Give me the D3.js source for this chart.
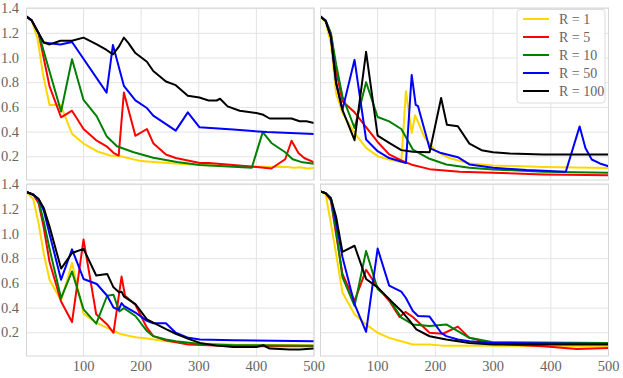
<!DOCTYPE html>
<html>
<head>
<meta charset="utf-8">
<script src="https://cdn.jsdelivr.net/npm/d3@7"></script>
<style>
  body { margin: 0; background: #fff; }
  svg text { font-family: "Liberation Serif", "DejaVu Serif", serif; }
</style>
</head>
<body>
<svg id="chart" width="623" height="378"></svg>
<script>
// legend / series categories
const rValues = [1, 5, 10, 50, 100];
const colors = ["#ffd700", "#ff0000", "#008000", "#0000ff", "#000000"];
const xTicks = [100, 200, 300, 400, 500];
const yTicks = [0.2, 0.4, 0.6, 0.8, 1.0, 1.2, 1.4];

// top-left panel
const tl_R1 = [[1,1.335],[10,1.30],[20,1.16],[30,0.86],[41,0.62],[60,0.62],[80,0.387],[100,0.307],[123,0.245],[146,0.21],[164,0.205],[200,0.165],[245,0.15],[302,0.133],[360,0.125],[418,0.12],[453,0.117],[465,0.112],[476,0.115],[488,0.106],[500,0.11]];
const tl_R5 = [[1,1.335],[10,1.305],[22,1.2],[41,0.77],[61,0.52],[80,0.573],[100,0.425],[123,0.33],[140,0.285],[152,0.232],[161,0.21],[170,0.72],[190,0.37],[210,0.425],[221,0.31],[243,0.218],[260,0.19],[302,0.15],[317,0.15],[360,0.133],[418,0.11],[426,0.105],[450,0.18],[461,0.33],[473,0.23],[483,0.19],[500,0.155]];
const tl_R10 = [[1,1.335],[10,1.305],[22,1.2],[41,0.89],[61,0.567],[80,0.99],[100,0.66],[123,0.527],[140,0.367],[158,0.285],[187,0.237],[221,0.192],[262,0.157],[302,0.133],[360,0.12],[392,0.111],[411,0.40],[426,0.312],[450,0.237],[463,0.18],[480,0.155],[500,0.143]];
const tl_R50 = [[1,1.335],[10,1.305],[22,1.2],[31,1.125],[41,1.12],[60,1.11],[80,1.13],[140,0.72],[151,1.106],[170,0.775],[190,0.657],[210,0.595],[221,0.533],[260,0.412],[281,0.56],[301,0.44],[360,0.42],[418,0.40],[500,0.385]];
const tl_R100 = [[1,1.335],[10,1.305],[22,1.2],[31,1.125],[41,1.11],[60,1.14],[80,1.14],[100,1.165],[123,1.11],[140,1.065],[151,1.03],[161,1.09],[170,1.165],[178,1.12],[190,1.04],[210,0.97],[221,0.895],[243,0.81],[260,0.78],[281,0.694],[301,0.68],[317,0.656],[331,0.656],[337,0.67],[350,0.608],[371,0.573],[400,0.555],[412,0.54],[423,0.51],[461,0.51],[475,0.488],[487,0.488],[500,0.474]];

// top-right panel
const tr_R1 = [[1,1.335],[10,1.29],[19,1.12],[28,0.715],[39,0.555],[60,0.393],[80,0.272],[100,0.205],[120,0.178],[141,0.157],[149,0.73],[159,0.393],[165,0.536],[181,0.36],[201,0.245],[224,0.19],[259,0.145],[300,0.13],[387,0.118],[500,0.11]];
const tr_R5 = [[1,1.335],[10,1.30],[19,1.2],[28,0.9],[39,0.65],[60,0.56],[80,0.44],[100,0.32],[120,0.22],[141,0.17],[161,0.133],[190,0.1],[242,0.079],[300,0.071],[387,0.057],[500,0.05]];
const tr_R10 = [[1,1.335],[10,1.305],[19,1.2],[28,0.95],[39,0.69],[60,0.433],[80,0.804],[100,0.522],[120,0.487],[141,0.425],[161,0.259],[190,0.184],[219,0.138],[259,0.111],[300,0.098],[387,0.079],[500,0.071]];
const tr_R50 = [[1,1.335],[10,1.30],[19,1.17],[28,0.8],[39,0.58],[60,0.985],[80,0.34],[100,0.245],[120,0.19],[149,0.15],[159,0.863],[166,0.62],[170,0.61],[190,0.27],[210,0.23],[239,0.197],[259,0.138],[300,0.111],[358,0.092],[426,0.079],[450,0.446],[460,0.272],[471,0.178],[485,0.146],[500,0.124]];
const tr_R100 = [[1,1.335],[10,1.30],[19,1.17],[28,0.80],[39,0.58],[60,0.334],[80,1.05],[100,0.372],[120,0.313],[141,0.254],[161,0.24],[190,0.237],[210,0.676],[220,0.46],[239,0.447],[259,0.307],[280,0.253],[300,0.237],[329,0.226],[387,0.218],[500,0.218]];

// bottom-left panel
const bl_R1 = [[1,1.34],[13,1.28],[22,1.086],[31,0.84],[41,0.63],[61,0.46],[80,0.765],[100,0.355],[122,0.282],[141,0.24],[164,0.19],[190,0.164],[210,0.153],[244,0.132],[302,0.114],[360,0.105],[500,0.1]];
const bl_R5 = [[1,1.34],[13,1.318],[22,1.25],[31,1.05],[41,0.773],[61,0.454],[80,0.287],[100,0.955],[122,0.35],[141,0.268],[152,0.2],[166,0.655],[172,0.5],[190,0.427],[210,0.241],[221,0.173],[244,0.137],[282,0.105],[360,0.09],[500,0.09]];
const bl_R10 = [[1,1.34],[13,1.318],[22,1.27],[31,1.1],[41,0.88],[61,0.48],[80,0.697],[100,0.39],[122,0.274],[141,0.5],[152,0.508],[162,0.372],[170,0.4],[190,0.336],[210,0.214],[221,0.173],[243,0.146],[260,0.132],[302,0.11],[360,0.1],[500,0.096]];
const bl_R50 = [[1,1.34],[13,1.318],[22,1.283],[31,1.19],[41,1.0],[61,0.63],[80,0.876],[100,0.636],[123,0.595],[141,0.5],[152,0.405],[161,0.386],[166,0.44],[170,0.418],[190,0.364],[210,0.296],[221,0.277],[243,0.277],[260,0.2],[282,0.159],[302,0.146],[360,0.14],[500,0.132]];
const bl_R100 = [[1,1.34],[13,1.318],[22,1.283],[31,1.21],[41,1.06],[61,0.72],[80,0.846],[100,0.88],[122,0.664],[141,0.677],[152,0.568],[162,0.527],[166,0.533],[170,0.495],[190,0.432],[210,0.309],[221,0.282],[244,0.227],[260,0.192],[282,0.151],[302,0.118],[331,0.096],[360,0.085],[400,0.085],[412,0.099],[423,0.072],[458,0.064],[475,0.064],[500,0.072]];

// bottom-right panel
const br_R1 = [[1,1.345],[10,1.32],[19,1.086],[28,0.84],[39,0.527],[60,0.35],[80,0.268],[100,0.2],[120,0.159],[141,0.132],[161,0.105],[190,0.105],[213,0.096],[300,0.096],[387,0.09],[500,0.09]];
const br_R5 = [[1,1.345],[10,1.33],[19,1.27],[28,1.0],[39,0.677],[60,0.459],[80,0.71],[100,0.568],[120,0.459],[138,0.328],[148,0.369],[161,0.328],[190,0.2],[213,0.192],[239,0.25],[259,0.159],[300,0.113],[387,0.09],[445,0.069],[500,0.077]];
const br_R10 = [[1,1.345],[10,1.33],[19,1.28],[28,1.03],[39,0.65],[60,0.418],[80,0.863],[100,0.555],[120,0.473],[141,0.323],[161,0.268],[190,0.254],[219,0.268],[239,0.214],[259,0.159],[300,0.124],[500,0.118]];
const br_R50 = [[1,1.345],[10,1.33],[19,1.29],[28,1.1],[39,0.814],[60,0.432],[80,0.208],[100,0.882],[120,0.582],[141,0.533],[149,0.482],[161,0.377],[170,0.336],[190,0.331],[210,0.2],[219,0.173],[239,0.146],[259,0.132],[300,0.118],[500,0.11]];
const br_R100 = [[1,1.345],[10,1.33],[19,1.29],[28,1.14],[39,0.855],[60,0.905],[80,0.636],[100,0.568],[120,0.473],[141,0.377],[155,0.3],[167,0.227],[190,0.172],[219,0.145],[259,0.118],[300,0.105],[500,0.105]];

const svg = d3.select("#chart");

// panel boxes (pixels)
const colX = [[26.5, 314], [320.5, 608.5]];
const rowY = [[8, 180], [184, 356]];

const panels = [
  {col: 0, row: 0, series: [tl_R1, tl_R5, tl_R10, tl_R50, tl_R100]},
  {col: 1, row: 0, series: [tr_R1, tr_R5, tr_R10, tr_R50, tr_R100]},
  {col: 0, row: 1, series: [bl_R1, bl_R5, bl_R10, bl_R50, bl_R100]},
  {col: 1, row: 1, series: [br_R1, br_R5, br_R10, br_R50, br_R100]}
];

panels.forEach(function(p, i) {
  let x = d3.scaleLinear().domain([1, 500]).range(colX[p.col]);
  let y = d3.scaleLinear().domain([0.012, 1.405]).range([rowY[p.row][1], rowY[p.row][0]]);
  let w = colX[p.col][1] - colX[p.col][0];
  let h = rowY[p.row][1] - rowY[p.row][0];

  let g = svg.append("g");

  svg.append("clipPath").attr("id", "clip" + i)
    .append("rect")
    .attr("x", colX[p.col][0]).attr("y", rowY[p.row][0])
    .attr("width", w).attr("height", h);

  // grid
  g.selectAll(".gx").data(xTicks).enter().append("line")
    .attr("x1", d => x(d)).attr("x2", d => x(d))
    .attr("y1", rowY[p.row][0]).attr("y2", rowY[p.row][1])
    .attr("stroke", "#e3e3e3").attr("stroke-width", 1);
  g.selectAll(".gy").data(yTicks).enter().append("line")
    .attr("x1", colX[p.col][0]).attr("x2", colX[p.col][1])
    .attr("y1", d => y(d)).attr("y2", d => y(d))
    .attr("stroke", "#e3e3e3").attr("stroke-width", 1);

  // lines
  let line = d3.line().x(d => x(d[0])).y(d => y(d[1]));
  p.series.forEach(function(s, k) {
    g.append("path")
      .datum(s)
      .attr("d", line)
      .attr("clip-path", "url(#clip" + i + ")")
      .attr("fill", "none")
      .attr("stroke", colors[k])
      .attr("stroke-width", 2)
      .attr("stroke-linejoin", "round");
  });

  // frame
  g.append("rect")
    .attr("x", colX[p.col][0]).attr("y", rowY[p.row][0])
    .attr("width", w).attr("height", h)
    .attr("fill", "none").attr("stroke", "#d6d6d6").attr("stroke-width", 1);

  // tick labels only on outer edges
  if (p.col == 0) {
    g.selectAll(".ty").data(yTicks).enter().append("text")
      .attr("x", 19).attr("y", d => y(d) + 4.5)
      .attr("text-anchor", "end")
      .attr("font-size", 14.5).attr("fill", "#666")
      .text(d => d.toFixed(1));
  }
  if (p.row == 1) {
    g.selectAll(".tx").data(xTicks).enter().append("text")
      .attr("x", d => x(d)).attr("y", 371)
      .attr("text-anchor", "middle")
      .attr("font-size", 14.5).attr("fill", "#666")
      .text(d => d);
  }
});

// legend in top-right panel
let lg = svg.append("g");
lg.append("rect")
  .attr("x", 517).attr("y", 9.5).attr("width", 88).attr("height", 93.5)
  .attr("rx", 3)
  .attr("fill", "#fff").attr("fill-opacity", 0.85)
  .attr("stroke", "#dcdcdc").attr("stroke-width", 1);

rValues.forEach(function(r, k) {
  let yy = 19 + k * 18;
  lg.append("line")
    .attr("x1", 523).attr("x2", 549).attr("y1", yy).attr("y2", yy)
    .attr("stroke", colors[k]).attr("stroke-width", 2);
  lg.append("text")
    .attr("x", 559).attr("y", yy + 4.5)
    .attr("font-size", 14).attr("fill", "#666")
    .text("R = " + r);
});
</script>
</body>
</html>
